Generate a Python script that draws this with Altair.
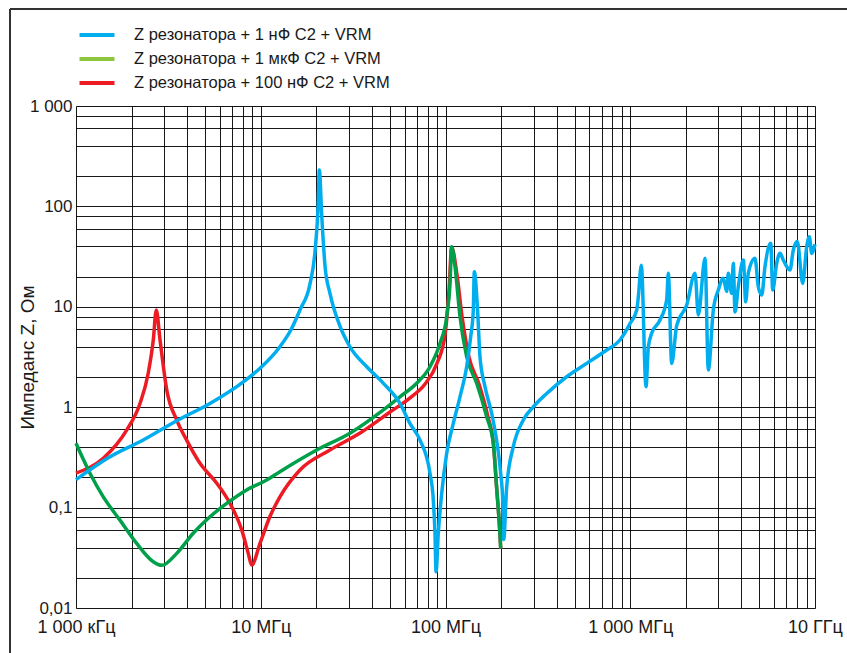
import altair as alt
import pandas as pd

# ---------------- data (frequency in MHz, impedance in Ohm) ----------------
series_names = [
    "Z резонатора + 1 нФ C2 + VRM",
    "Z резонатора + 1 мкФ C2 + VRM",
    "Z резонатора + 100 нФ C2 + VRM",
]
line_colors = ["#00AEEF", "#00A04A", "#ED1C24"]
legend_colors = ["#00AEEF", "#8DC63F", "#ED1C24"]

blue_f = [1.0, 1.53, 2.31, 3.51, 5.31, 8.05, 9.91, 12.7, 14.5, 16.3, 18.5, 19.7, 20.5, 20.75,
          21.4, 22.3, 23.7, 26.9, 30.4, 37.5, 46.1, 56.7, 64.2, 72.8, 82.4, 85.9, 87.7, 88.9,
          91.4, 95.4, 101.5, 110.2, 119.8, 130.2, 136.9, 141.4, 143.2, 149.0, 153.7, 163.6,
          177.8, 189.0, 199.0, 204.0, 206.5, 214.4, 232.8, 263.8, 298.7, 353.0, 452.9, 581.0,
          745.6, 880.0, 997.0, 1084.0, 1106.0, 1148.0, 1217.0, 1253.0, 1306.0, 1449.0, 1574.0,
          1607.0, 1676.0, 1784.0, 2021.0, 2242.0, 2336.0, 2539.0, 2646.0, 2816.0, 2997.0,
          3190.0, 3327.0, 3395.0, 3540.0, 3613.0, 3690.0, 3845.0, 4093.0, 4217.0, 4355.0,
          4735.0, 4932.0, 5148.0, 5361.0, 5758.0, 5904.0, 6204.0, 6466.0, 6737.0, 7322.0,
          7632.0, 8022.0, 8579.0, 9017.0, 9316.0, 9597.0, 10000.0]
blue_z = [0.19, 0.321, 0.471, 0.734, 1.09, 1.79, 2.44, 4.0, 5.8, 9.3, 17.1, 36.8, 116.0, 231.0,
          78.9, 25.0, 13.6, 6.34, 4.0, 2.53, 1.73, 1.09, 0.689, 0.47, 0.22, 0.119, 0.0555, 0.023,
          0.0555, 0.139, 0.348, 0.69, 1.27, 2.53, 5.04, 9.3, 22.4, 9.6, 3.18, 1.6,
          0.867, 0.47, 0.219, 0.119, 0.048, 0.161, 0.404, 0.746, 1.01, 1.37, 2.01, 2.73,
          3.71, 4.67, 6.8, 9.3, 12.6, 26.0, 1.6, 4.0, 5.45, 7.38, 11.7,
          21.6, 2.73, 6.5, 10.4, 21.6, 8.3, 30.4, 2.35, 9.3, 14.7,
          19.2, 14.2, 21.6, 13.6, 27.1, 8.9, 15.9, 29.2, 11.2, 21.6,
          30.4, 15.9, 13.1, 25.0, 43.0, 14.7, 27.1, 34.1, 29.2, 23.3,
          36.8, 44.6, 17.1, 39.7, 49.9, 34.0, 42.0]

green_f = [1.0, 1.19, 1.405, 1.73, 2.13, 2.62, 2.91, 3.51, 4.31, 5.31, 6.54, 8.39, 10.77, 12.7,
           20.1, 30.4, 46.1, 56.7, 69.8, 82.4, 93.4, 101.5, 105.8, 108.0, 112.6, 119.8, 130.2,
           147.5, 167.0, 181.5, 189.0, 197.0, 199.0]
green_z = [0.437, 0.22, 0.128, 0.075, 0.044, 0.0289, 0.0266, 0.035, 0.0555, 0.081, 0.11, 0.15,
           0.188, 0.228, 0.375, 0.55, 0.94, 1.27, 1.73, 2.53, 4.33, 7.98, 17.1, 39.7, 25.0, 8.0,
           3.18, 1.73, 0.805, 0.437, 0.161, 0.0555, 0.039]

red_f = [1.0, 1.405, 1.88, 2.22, 2.46, 2.62, 2.72, 2.85, 3.10, 3.51, 3.97, 4.69, 5.78, 6.82,
         7.89, 8.56, 8.93, 9.91, 11.2, 12.7, 16.3, 23.7, 34.5, 50.1, 64.3, 77.5, 90.0, 99.4,
         104.5, 108.0, 115.4, 122.8, 134.0, 151.8, 169.8, 181.5, 189.0, 197.0, 199.0]
red_z = [0.22, 0.31, 0.59, 1.09, 2.18, 4.67, 9.3, 4.67, 1.48, 0.745, 0.47, 0.276, 0.175, 0.11,
         0.06, 0.035, 0.0268, 0.044, 0.081, 0.128, 0.237, 0.375, 0.553, 0.895, 1.24, 1.7, 2.75,
         5.24, 14.7, 39.0, 20.8, 8.1, 3.16, 1.7, 0.8, 0.437, 0.161, 0.0555, 0.039]

x_label_values = [1, 10, 100, 1000, 10000]
x_label_texts = ["1 000 кГц", "10 МГц", "100 МГц", "1 000 МГц", "10 ГГц"]
y_label_values = [0.01, 0.1, 1, 10, 100, 1000]
y_label_texts = ["0,01", "0,1", "1", "10", "100", "1 000"]

x_grid = [d * m for d in [1, 10, 100, 1000] for m in range(1, 10)] + [10000]
y_grid = [round(d * m, 4) for d in [0.01, 0.1, 1, 10, 100] for m in [1, 2, 4, 6, 8]] + [1000]

# ---------------- build tables ----------------
frames = []
for name, fs, zs in zip(series_names, [blue_f, green_f, red_f], [blue_z, green_z, red_z]):
    frames.append(pd.DataFrame({"series": name, "f": fs, "z": zs, "i": range(len(fs))}))
df = pd.concat(frames, ignore_index=True)


def label_expr(values, texts):
    expr = "''"
    for v, t in zip(reversed(values), reversed(texts)):
        expr = f"abs(datum.value - {v}) < {v} * 1e-6 ? '{t}' : ({expr})"
    return expr


FONT = "Liberation Sans"

x_enc = alt.X(
    "f:Q",
    scale=alt.Scale(type="log", domain=[1, 10000], nice=False),
    axis=alt.Axis(
        values=x_grid, labelExpr=label_expr(x_label_values, x_label_texts),
        title=None, grid=True, gridColor="#000000", gridOpacity=0.9, gridWidth=1,
        ticks=False, domain=False, labelFont=FONT, labelFontSize=18, labelColor="#1a1a1a",
        labelPadding=10, labelFlush=False, labelOverlap=False,
    ),
)
y_enc = alt.Y(
    "z:Q",
    scale=alt.Scale(type="log", domain=[0.01, 1000], nice=False),
    axis=alt.Axis(
        values=y_grid, labelExpr=label_expr(y_label_values, y_label_texts),
        title="Импеданс Z, Ом", titleFont=FONT, titleFontSize=19, titleFontWeight="normal",
        titleColor="#1a1a1a", titleX=-49, titleY=251, titleAngle=-90, titleAlign="center",
        titleBaseline="middle",
        grid=True, gridColor="#000000", gridOpacity=0.9, gridWidth=1,
        ticks=False, domain=False, labelFont=FONT, labelFontSize=17, labelColor="#1a1a1a",
        labelPadding=4, labelFlush=False, labelOverlap=False,
    ),
)

legend_layer = alt.Chart(df).transform_filter("false").mark_line().encode(
    x=x_enc, y=y_enc,
    color=alt.Color(
        "series:N",
        scale=alt.Scale(domain=series_names, range=legend_colors),
        legend=alt.Legend(
            title=None, orient="none", legendX=10, legendY=-82,
            symbolType="M-2,0H2", symbolSize=306, symbolStrokeWidth=4,
            labelFont=FONT, labelFontSize=16.5, labelColor="#1a1a1a", labelOffset=26,
            rowPadding=4, padding=0, labelLimit=0,
        ),
    ),
)

line_layers = []
for idx in [2, 1, 0]:
    name = series_names[idx]
    line_layers.append(
        alt.Chart(df).transform_filter(alt.datum.series == name).mark_line(
            color=line_colors[idx], strokeWidth=3.5, interpolate="monotone"
        ).encode(x=x_enc, y=y_enc, order="i:Q")
    )

frame_top = alt.Chart(df).mark_rule(color="#333333", strokeWidth=1.5).encode(
    x=alt.value(-66), x2=alt.value(800), y=alt.value(-97)
)
frame_left = alt.Chart(df).mark_rule(color="#333333", strokeWidth=1.5).encode(
    x=alt.value(-66), y=alt.value(-97), y2=alt.value(600)
)

chart = alt.layer(frame_top, frame_left, legend_layer, *line_layers).properties(
    width=739, height=502,
    autosize=alt.AutoSizeParams(type="none"),
    padding={"left": 76, "top": 106, "right": 32, "bottom": 45},
).configure_view(stroke="#000000", strokeWidth=1.5).configure(background="white")

chart.save("out.html", embed_options={"renderer": "svg", "actions": False})
